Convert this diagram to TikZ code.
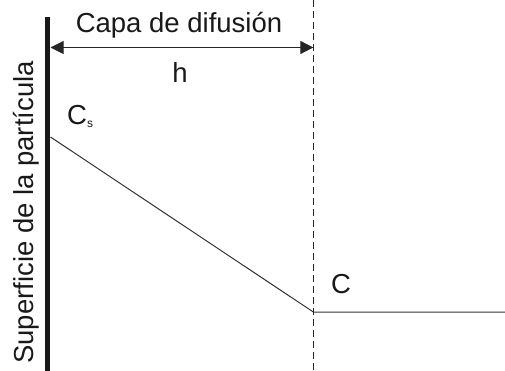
\documentclass[tikz,border=0pt]{standalone}
\usepackage{fontspec}
\setmainfont{Liberation Sans}
\usetikzlibrary{arrows.meta, positioning}

\begin{document}
\begin{tikzpicture}[
    x=1pt, y=-1pt,
    lbl/.style={font=\fontsize{27.5}{33}\selectfont, text=black!90, inner sep=0pt},
    wall/.style={line width=5.5pt, draw=black!90},
    border/.style={line width=1.2pt, draw=black!85, dash pattern=on 7pt off 4pt},
    profile/.style={line width=1pt, draw=black!80},
    dim/.style={{Triangle[length=13pt, width=13pt]}-{Triangle[length=13pt, width=13pt]}, line width=1pt, draw=black!85, fill=black!90}
]
    \useasboundingbox (0,0) rectangle (505,371);

    \coordinate (walltop) at (47.5,17);
    \coordinate (wallbot) at (47.5,371);
    \coordinate (layertop) at (313.3,0);
    \coordinate (layerbot) at (313.3,371);
    \coordinate (surf) at (50.5,137);
    \coordinate (bulk) at (313.3,312);
    \coordinate (far) at (505,312);
    \coordinate (hleft) at (50.5,47.5);
    \coordinate (hright) at (313.3,47.5);

    \node (capa) [lbl, anchor=base] at (179,33) {Capa de difusión};
    \node (h) [lbl] at (180,73) {h};
    \node (cs) [lbl, anchor=base west] at (67,125) {C\raisebox{-3pt}{\fontsize{12}{12}\selectfont s}};
    \node (c) [lbl, anchor=base west] at (331,293) {C};
    \node (sup) [lbl, rotate=90, anchor=base west] at (33,364) {Superficie de la partícula};

    \draw [wall] (walltop) -- (wallbot);
    \draw [border] (layertop) -- (layerbot);
    \draw [dim] (hleft) -- (hright);
    \draw [profile] (surf) -- (bulk) -- (far);
\end{tikzpicture}
\end{document}
